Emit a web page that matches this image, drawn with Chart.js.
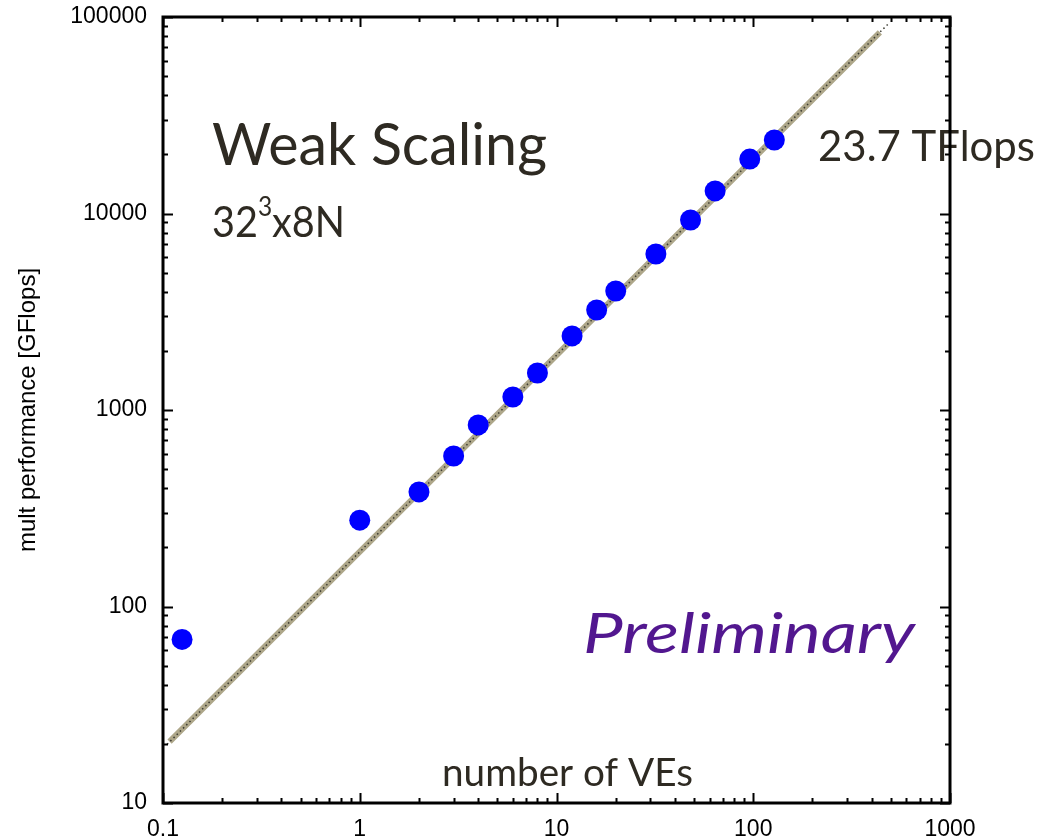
<!DOCTYPE html>
<html>
<head>
<meta charset="utf-8">
<script src="https://cdn.jsdelivr.net/npm/chart.js@4.4.0/dist/chart.umd.min.js"></script>
<style>
  html, body { margin: 0; padding: 0; background: #fff; }
</style>
</head>
<body>
<canvas id="js-scaling-chart" width="1040" height="839"></canvas>
<script>
"use strict";
{
  // 測定値 (number of VEs / mult performance [GFlops])
  const VE_COUNTS = [0.125, 1, 2, 3, 4, 6, 8, 12, 16, 20, 32, 48, 64, 96, 128];
  const MULT_GFLOPS = [68, 275, 383, 583, 840, 1165, 1542, 2382, 3228, 4035, 6222, 9270, 13030, 18920, 23650];

  // ideal scaling line (thick) and the dotted guide on top of it
  const IDEAL_VES = [0.108, 440];
  const IDEAL_GFLOPS = [20.5, 83600];
  const GUIDE_VES = [0.105, 484];
  const GUIDE_GFLOPS = [19.9, 92000];

  const X_TICK_LABELS = ["0.1", "1", "10", "100", "1000"];
  const Y_TICK_LABELS = ["10", "100", "1000", "10000", "100000"];

  const TEXT_COLOR = "#2e2a22";

  function isDecade(v) {
    const l = Math.log10(v);
    return Math.abs(l - Math.round(l)) < 1e-6;
  }

  function decadeTicks(min, max) {
    const out = [];
    for (let e = Math.round(Math.log10(min)); e <= Math.round(Math.log10(max)); e++) {
      for (let m = 1; m <= 9; m++) {
        const v = Number((m * Math.pow(10, e)).toPrecision(6));
        if (v >= min && v <= max) out.push({ value: v });
      }
    }
    return out;
  }

  function toPoints(xs, ys) {
    return xs.map((x, i) => ({ x: x, y: ys[i] }));
  }

  // text drawn to a fixed width (the original uses Calibri)
  function fitText(ctx, text, x, base, size, width, style, color) {
    ctx.save();
    ctx.font = style + " " + size + "px Lato";
    const w = ctx.measureText(text).width;
    ctx.translate(x, base);
    ctx.scale(width / w, 1);
    ctx.fillStyle = color;
    ctx.textBaseline = "alphabetic";
    ctx.fillText(text, 0, 0);
    ctx.restore();
  }

  const textPlugin = {
    id: "slideText",
    afterDatasetsDraw(chart) {
      const ctx = chart.ctx;
      fitText(ctx, "Weak Scaling", 212, 165, 58, 335, "normal", TEXT_COLOR);
      fitText(ctx, "23.7 TFlops", 818, 161, 43, 217, "normal", TEXT_COLOR);
      fitText(ctx, "Preliminary", 583, 653, 57, 332, "italic", "#52178f");
      fitText(ctx, "number of VEs", 442, 786, 38, 251, "normal", TEXT_COLOR);

      // 32^3x8N
      ctx.save();
      ctx.fillStyle = TEXT_COLOR;
      ctx.textBaseline = "alphabetic";
      ctx.font = "42px Lato";
      const w1 = ctx.measureText("32").width;
      const w3 = ctx.measureText("x8N").width;
      ctx.font = "26px Lato";
      const w2 = ctx.measureText("3").width;
      const sx = 133 / (w1 + w2 + w3);
      ctx.translate(212, 237);
      ctx.scale(sx, 1);
      ctx.font = "42px Lato";
      ctx.fillText("32", 0, 0);
      ctx.font = "26px Lato";
      ctx.fillText("3", w1, -21);
      ctx.font = "42px Lato";
      ctx.fillText("x8N", w1 + w2, 0);
      ctx.restore();
    },
  };

  // frame and inward ticks on all four sides
  const framePlugin = {
    id: "frameTicks",
    afterDraw(chart) {
      const { ctx, chartArea: a, scales } = chart;
      ctx.save();
      ctx.strokeStyle = "#000";
      ctx.lineWidth = 2;
      ctx.beginPath();
      scales.x.ticks.forEach((t) => {
        const px = Math.round(scales.x.getPixelForValue(t.value)) + 0.5;
        const len = isDecade(t.value) ? 10 : 5;
        ctx.moveTo(px, a.bottom);
        ctx.lineTo(px, a.bottom - len);
        ctx.moveTo(px, a.top);
        ctx.lineTo(px, a.top + len);
      });
      scales.y.ticks.forEach((t) => {
        const py = Math.round(scales.y.getPixelForValue(t.value)) + 0.5;
        const len = isDecade(t.value) ? 10 : 5;
        ctx.moveTo(a.left, py);
        ctx.lineTo(a.left + len, py);
        ctx.moveTo(a.right, py);
        ctx.lineTo(a.right - len, py);
      });
      ctx.stroke();
      ctx.lineWidth = 3;
      ctx.strokeRect(a.left, a.top, a.right - a.left, a.bottom - a.top);
      ctx.restore();
    },
  };

  const ctx = document.getElementById("js-scaling-chart").getContext("2d");

  new Chart(ctx, {
    type: "scatter",
    data: {
      datasets: [
        {
          data: toPoints(VE_COUNTS, MULT_GFLOPS),
          backgroundColor: "#0000ff",
          borderWidth: 0,
          pointRadius: 10.5,
          order: 0,
        },
        {
          data: toPoints(GUIDE_VES, GUIDE_GFLOPS),
          showLine: true,
          borderColor: "#3a3a30",
          borderWidth: 1.5,
          borderDash: [1.5, 3],
          pointRadius: 0,
          order: 1,
        },
        {
          data: toPoints(IDEAL_VES, IDEAL_GFLOPS),
          showLine: true,
          borderColor: "#aea78a",
          borderWidth: 6,
          pointRadius: 0,
          order: 2,
        },
      ],
    },
    options: {
      responsive: false,
      animation: false,
      layout: { padding: { top: 17, right: 90, left: 0, bottom: 0 } },
      scales: {
        x: {
          type: "logarithmic",
          min: 0.1,
          max: 1000,
          grid: { display: false, drawTicks: false },
          border: { display: false },
          afterBuildTicks: (scale) => {
            scale.ticks = decadeTicks(0.1, 1000);
          },
          afterFit: (scale) => {
            scale.height = 36;
            scale.paddingLeft = 0;
            scale.paddingRight = 0;
          },
          ticks: {
            autoSkip: false,
            maxRotation: 0,
            minRotation: 0,
            padding: 13,
            color: "#000",
            font: { family: "Liberation Sans", size: 23 },
            callback: function (value) {
              return isDecade(value) ? X_TICK_LABELS[Math.round(Math.log10(value)) + 1] : "";
            },
          },
        },
        y: {
          type: "logarithmic",
          min: 10,
          max: 100000,
          grid: { display: false, drawTicks: false },
          border: { display: false },
          afterBuildTicks: (scale) => {
            scale.ticks = decadeTicks(10, 100000);
          },
          afterFit: (scale) => {
            scale.width = 163;
            scale.paddingTop = 0;
            scale.paddingBottom = 0;
          },
          title: {
            display: true,
            text: "mult performance [GFlops]",
            color: "#000",
            font: { family: "Liberation Sans", size: 24 },
            padding: { top: 14, bottom: 0 },
          },
          ticks: {
            autoSkip: false,
            padding: 16,
            color: "#000",
            font: { family: "Liberation Sans", size: 23 },
            callback: function (value) {
              return isDecade(value) ? Y_TICK_LABELS[Math.round(Math.log10(value)) - 1] : "";
            },
          },
        },
      },
      plugins: {
        legend: { display: false },
        tooltip: { enabled: false },
      },
    },
    plugins: [textPlugin, framePlugin],
  });
}
</script>
</body>
</html>
